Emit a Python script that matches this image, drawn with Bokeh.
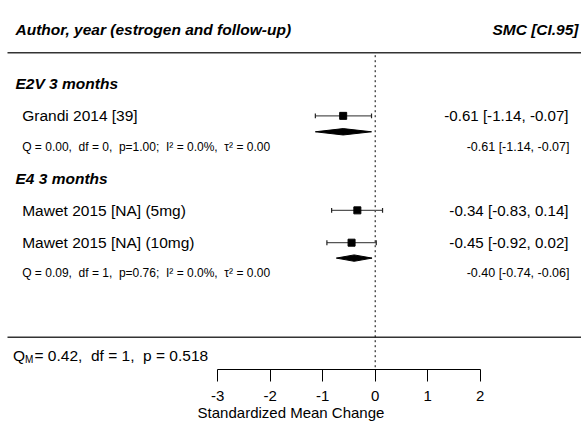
from bokeh.plotting import figure
from bokeh.models import Range1d, FixedTicker, ColumnDataSource
from bokeh.core.properties import value
from bokeh.embed import file_html
from bokeh.resources import INLINE

# ---------------- data ----------------
group_names = ["E2V 3 months", "E4 3 months"]
study_names = ["Grandi 2014 [39]", "Mawet 2015 [NA] (5mg)", "Mawet 2015 [NA] (10mg)"]
study_group = [0, 1, 1]
est = [-0.61, -0.34, -0.45]
ci_lower = [-1.14, -0.83, -0.92]
ci_upper = [-0.07, 0.14, 0.02]

sum_est = [-0.61, -0.40]
sum_lower = [-1.14, -0.74]
sum_upper = [-0.07, -0.06]
het_Q = [0.00, 0.09]
het_df = [0, 1]
het_p = [1.00, 0.76]
het_I2 = [0.0, 0.0]
het_tau2 = [0.00, 0.00]

QM = 0.42
QM_df = 1
QM_p = 0.518

tick_values = [-3, -2, -1, 0, 1, 2]
tick_labels = ["-3", "-2", "-1", "0", "1", "2"]
x_label = "Standardized Mean Change"
header_left = "Author, year (estrogen and follow-up)"
header_right = "SMC [CI.95]"

# ---------------- layout ----------------
FONT = "Liberation Sans"
W, H = 581, 423
PX0, UNIT = 374.7, 52.5          # image x of zero, px per unit
FRAME_BOTTOM = 371               # image y of axis line
SP = " \u00a0"                   # wide gap that survives whitespace collapsing


def xd(px):
    return (px - PX0) / UNIT


x_start, x_end = xd(0), xd(W)

group_y = [83, 179]
study_y = [116, 211, 243.5]
diamond_y = [132, 259]
het_y = [147, 274]
header_y = 29
rule_y = [52.5, 338.5]
qm_y = 357

p = figure(width=W, height=H, x_range=Range1d(x_start, x_end),
           y_range=Range1d(FRAME_BOTTOM, 0), output_backend="svg",
           toolbar_location=None, y_axis_location=None,
           min_border_left=0, min_border_right=0, min_border_top=0,
           min_border_bottom=H - FRAME_BOTTOM)
p.outline_line_color = None
p.xgrid.visible = False
p.ygrid.visible = False
p.background_fill_color = "white"
p.border_fill_color = "white"

# axis
ax = p.xaxis[0]
ax.ticker = FixedTicker(ticks=tick_values)
ax.major_label_overrides = {t: s for t, s in zip(tick_values, tick_labels)}
ax.bounds = (min(tick_values), max(tick_values))
ax.major_tick_in = 0
ax.major_tick_out = 12
ax.minor_tick_line_color = None
ax.axis_line_color = "black"
ax.major_tick_line_color = "black"
ax.major_label_text_font = FONT
ax.major_label_text_font_size = "15px"
ax.major_label_text_color = "black"
ax.major_label_standoff = 9
ax.axis_label = x_label
ax.axis_label_text_font = FONT
ax.axis_label_text_font_size = "15px"
ax.axis_label_text_font_style = "normal"
ax.axis_label_text_color = "black"
ax.axis_label_standoff = 0

# horizontal rules
p.segment(x0=[xd(7)] * 2, y0=rule_y, x1=[xd(W)] * 2, y1=rule_y,
          line_color="#333333", line_width=1.4)

# zero reference line
p.segment(x0=[0], y0=[55], x1=[0], y1=[FRAME_BOTTOM], line_color="black",
          line_width=1, line_dash="2 3")

# header
p.text(x=[xd(15)], y=[header_y], text=[header_left], text_font=value(FONT),
       text_font_size="15.5px", text_font_style="bold italic",
       text_baseline="middle", text_align="left", text_color="black")
p.text(x=[xd(578)], y=[header_y], text=[header_right], text_font=value(FONT),
       text_font_size="15.5px", text_font_style="bold italic",
       text_baseline="middle", text_align="right", text_color="black")

# group labels
p.text(x=[xd(15)] * len(group_names), y=group_y, text=group_names, text_font=value(FONT),
       text_font_size="15.5px", text_font_style="bold italic",
       text_baseline="middle", text_align="left", text_color="black")

# studies
src = ColumnDataSource(dict(
    y=study_y, est=est, lo=ci_lower, hi=ci_upper, name=study_names,
    lab=[f"{e:.2f} [{l:.2f}, {u:.2f}]" for e, l, u in zip(est, ci_lower, ci_upper)],
    ytop=[v - 2.5 for v in study_y], ybot=[v + 2.5 for v in study_y],
))
p.text(x=xd(21.7), y="y", text="name", source=src, text_font=value(FONT),
       text_font_size="15.5px", text_baseline="middle", text_align="left", text_color="black")
p.text(x=xd(568), y="y", text="lab", source=src, text_font=value(FONT),
       text_font_size="15.1px", text_baseline="middle", text_align="right", text_color="black")
p.segment(x0="lo", y0="y", x1="hi", y1="y", source=src, line_color="#555555", line_width=1.2)
p.segment(x0="lo", y0="ytop", x1="lo", y1="ybot", source=src, line_color="#222222", line_width=1.2)
p.segment(x0="hi", y0="ytop", x1="hi", y1="ybot", source=src, line_color="#222222", line_width=1.2)
p.scatter(x="est", y="y", source=src, marker="square", size=7, fill_color="black",
          line_color="black")

# subgroup summaries
dh = 3.2
p.patches(xs=[[l, e, u, e] for l, e, u in zip(sum_lower, sum_est, sum_upper)],
          ys=[[y, y - dh, y, y + dh] for y in diamond_y],
          fill_color="black", line_color="black", line_width=1)

het_text = [
    f"Q = {q:.2f},{SP}df = {d},{SP}p={pp:.2f};{SP}I\u00b2 = {i2:.1f}%,{SP}\u03c4\u00b2 = {t2:.2f}"
    for q, d, pp, i2, t2 in zip(het_Q, het_df, het_p, het_I2, het_tau2)
]
p.text(x=[xd(21.7)] * 2, y=het_y, text=het_text, text_font=value(FONT),
       text_font_size="12px", text_baseline="middle", text_align="left", text_color="black")
sum_text = [f"{e:.2f} [{l:.2f}, {u:.2f}]" for e, l, u in zip(sum_est, sum_lower, sum_upper)]
p.text(x=[xd(569)] * 2, y=het_y, text=sum_text, text_font=value(FONT),
       text_font_size="12.5px", text_baseline="middle", text_align="right", text_color="black")

# test for subgroup differences
p.text(x=[xd(12.5)], y=[qm_y], text=["Q"], text_font=value(FONT), text_font_size="15.5px",
       text_baseline="middle", text_align="left", text_color="black")
p.text(x=[xd(24.5)], y=[qm_y + 4], text=["M"], text_font=value(FONT), text_font_size="10px",
       text_baseline="middle", text_align="left", text_color="black")
p.text(x=[xd(34)], y=[qm_y], text=[f"= {QM:.2f},{SP}df = {QM_df},{SP}p = {QM_p:.3f}"],
       text_font=value(FONT), text_font_size="15.5px",
       text_baseline="middle", text_align="left", text_color="black")

open("out.html", "w").write(file_html(p, INLINE))
